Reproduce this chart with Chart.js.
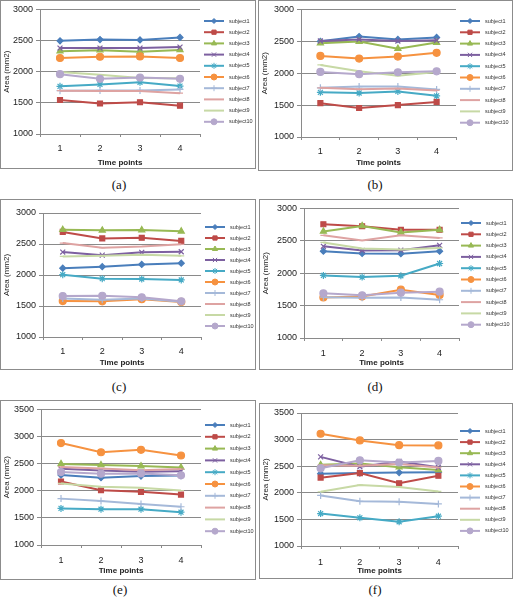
<!DOCTYPE html>
<html>
<head>
<meta charset="utf-8">
<script src="https://cdn.jsdelivr.net/npm/chart.js@4/dist/chart.umd.min.js"></script>
<style>
  body { margin: 0; background: #fff; width: 513px; height: 599px; position: relative; overflow: hidden; }
  .panel { position: absolute; border: 1px solid #8c8c8c; box-sizing: border-box; background: #fff; }
  .panel canvas { display: block; }
  .cap { position: absolute; font-family: "Liberation Serif", serif; font-size: 13px; line-height: 16px; transform: translateX(-50%); color: #111; }
</style>
</head>
<body>
<div class="panel" style="left:0px;top:0px;width:256px;height:169px"><canvas id="chartA" width="254" height="167"></canvas></div>
<div class="panel" style="left:258px;top:0px;width:255px;height:171px"><canvas id="chartB" width="253" height="169"></canvas></div>
<div class="panel" style="left:0px;top:199px;width:256px;height:171px"><canvas id="chartC" width="254" height="169"></canvas></div>
<div class="panel" style="left:259px;top:199px;width:254px;height:171px"><canvas id="chartD" width="252" height="169"></canvas></div>
<div class="panel" style="left:0px;top:400px;width:256px;height:180px"><canvas id="chartE" width="254" height="178"></canvas></div>
<div class="panel" style="left:259px;top:403px;width:254px;height:176px"><canvas id="chartF" width="252" height="174"></canvas></div>
<div class="cap" style="left:119px;top:177px">(a)</div>
<div class="cap" style="left:375px;top:177px">(b)</div>
<div class="cap" style="left:119px;top:379px">(c)</div>
<div class="cap" style="left:375px;top:379px">(d)</div>
<div class="cap" style="left:120px;top:582px">(e)</div>
<div class="cap" style="left:375px;top:582px">(f)</div>
<script>
const timePoints = ['1', '2', '3', '4'];
const subjects = ['subject1', 'subject2', 'subject3', 'subject4', 'subject5',
                  'subject6', 'subject7', 'subject8', 'subject9', 'subject10'];
const ticks3000 = [1000, 1500, 2000, 2500, 3000];
const ticks3500 = [1000, 1500, 2000, 2500, 3000, 3500];

// one row per subject, values at time points 1..4
const areaA = [
  [2495, 2515, 2510, 2550], [1545, 1490, 1510, 1455], [2330, 2345, 2320, 2350],
  [2380, 2380, 2380, 2395], [1765, 1795, 1830, 1770], [2220, 2240, 2245, 2220],
  [1695, 1700, 1700, 1715], [1695, 1690, 1690, 1655], [1995, 1950, 1900, 1895],
  [1960, 1885, 1905, 1885]
];
const areaB = [
  [2500, 2575, 2530, 2560], [1530, 1455, 1500, 1550], [2470, 2495, 2385, 2480],
  [2505, 2530, 2505, 2515], [1700, 1690, 1715, 1645], [2270, 2230, 2260, 2320],
  [1770, 1790, 1790, 1745], [1770, 1750, 1760, 1730], [2130, 2030, 1960, 2020],
  [2020, 1985, 2015, 2030]
];
const areaC = [
  [2110, 2135, 2170, 2190], [2695, 2590, 2600, 2550], [2730, 2720, 2725, 2705],
  [2370, 2320, 2365, 2375], [2005, 1940, 1935, 1920], [1580, 1575, 1610, 1565],
  [1620, 1600, 1620, 1570], [2515, 2440, 2460, 2495], [2300, 2310, 2325, 2310],
  [1660, 1665, 1640, 1575]
];
const areaD = [
  [2340, 2305, 2300, 2340], [2755, 2725, 2670, 2670], [2645, 2730, 2630, 2670],
  [2415, 2350, 2355, 2430], [1965, 1940, 1960, 2150], [1625, 1640, 1745, 1665],
  [1630, 1620, 1625, 1590], [2585, 2505, 2585, 2545], [2475, 2380, 2365, 2390],
  [1690, 1660, 1700, 1715]
];
const areaE = [
  [2290, 2240, 2270, 2280], [2170, 2010, 1980, 1930], [2495, 2475, 2455, 2430],
  [2405, 2375, 2350, 2360], [1675, 1660, 1660, 1605], [2880, 2710, 2755, 2650],
  [1855, 1810, 1755, 1705], [2440, 2410, 2380, 2400], [2135, 2075, 2055, 2005],
  [2345, 2315, 2320, 2285]
];
const areaF = [
  [2360, 2370, 2380, 2385], [2285, 2370, 2180, 2320], [2525, 2550, 2480, 2430],
  [2675, 2490, 2590, 2480], [1610, 1530, 1455, 1560], [3110, 2985, 2895, 2890],
  [1950, 1840, 1830, 1790], [2520, 2510, 2540, 2475], [2020, 2145, 2110, 2025],
  [2460, 2610, 2570, 2600]
];

const colors = ['#4a7ebb', '#be4b48', '#98b954', '#7d60a0', '#46aac5',
                '#f69240', '#a5b9d9', '#dea3a2', '#c7d9a5', '#b5a8cc'];
const markers = ['rectRot', 'rect', 'triangle', 'crossRot', 'star',
                 'circle', 'cross', 'line', 'line', 'circle'];
const markerSize = [3, 3.5, 3.5, 3.5, 3.5, 3.5, 3.5, 3, 3, 3.5];
const gray = '#8a8a8a';
const FONT = '"Liberation Sans", Arial, sans-serif';

const sideLegend = {
  id: 'sideLegend',
  afterDraw(chart, args, opts) {
    const ctx = chart.ctx;
    chart.data.datasets.forEach((ds, i) => {
      const y = opts.y + i * opts.step;
      ctx.save();
      ctx.strokeStyle = ds.borderColor;
      ctx.lineWidth = 2;
      ctx.beginPath();
      ctx.moveTo(opts.x, y);
      ctx.lineTo(opts.x + 20, y);
      ctx.stroke();
      ctx.fillStyle = ds.backgroundColor;
      ctx.lineWidth = 1;
      if (ds.pointStyle !== 'line') {
        Chart.helpers.drawPoint(ctx, {pointStyle: ds.pointStyle, radius: ds.pointRadius - 0.5, rotation: 0, borderWidth: 1}, opts.x + 10, y);
      }
      ctx.fillStyle = '#333';
      ctx.font = '5.5px ' + FONT;
      ctx.textBaseline = 'middle';
      ctx.fillText(ds.label, opts.x + 25, y);
      ctx.restore();
    });
  }
};

function drawPanel(id, values, tickValues, g) {
  const canvas = document.getElementById(id);
  const W = canvas.width, H = canvas.height;
  return new Chart(canvas, {
    type: 'line',
    data: {
      labels: timePoints,
      datasets: subjects.map((name, i) => ({
        label: name,
        data: values[i],
        borderColor: colors[i],
        backgroundColor: colors[i],
        pointStyle: markers[i],
        pointRadius: markerSize[i],
        pointBorderWidth: 1.2,
        borderWidth: 2,
        tension: 0,
        order: 10 - i
      }))
    },
    options: {
      responsive: false,
      animation: false,
      devicePixelRatio: 1,
      layout: {padding: {left: 0, top: g.top, right: W - g.right, bottom: 0}},
      plugins: {
        legend: {display: false},
        tooltip: {enabled: false},
        sideLegend: {x: g.legendX, y: g.legendY, step: g.step}
      },
      scales: {
        x: {
          offset: true,
          grid: {display: true, drawOnChartArea: false, offset: true, color: gray, tickLength: 3},
          border: {color: gray},
          ticks: {color: '#222', font: {family: FONT, size: 9}, padding: g.labelY - g.bottom - 8.4, maxRotation: 0},
          title: {display: true, text: 'Time points', color: '#222', font: {family: FONT, size: 8, weight: 'bold'},
                  padding: {top: 0, bottom: H - g.titleY - 4.8}},
          afterFit: s => { s.height = H - g.bottom; }
        },
        y: {
          min: tickValues[0],
          max: tickValues[tickValues.length - 1],
          afterBuildTicks: s => { s.ticks = tickValues.map(v => ({value: v})); },
          grid: {color: gray, tickLength: 4},
          border: {color: gray},
          ticks: {color: '#222', font: {family: FONT, size: 9}, padding: 3, callback: v => String(v)},
          title: {display: true, text: 'Area (mm2)', color: '#222', font: {family: FONT, size: 8}, padding: {top: 1, bottom: 0}},
          afterFit: s => { s.width = g.left; }
        }
      }
    },
    plugins: [sideLegend]
  });
}

drawPanel('chartA', areaA, ticks3000, {left: 39, right: 199, top: 6, bottom: 133, labelY: 148, titleY: 162, legendX: 203, legendY: 20, step: 11.2});
drawPanel('chartB', areaB, ticks3000, {left: 42, right: 197, top: 6, bottom: 136, labelY: 151, titleY: 162, legendX: 201, legendY: 20, step: 11.3});
drawPanel('chartC', areaC, ticks3000, {left: 42, right: 200, top: 13, bottom: 137, labelY: 152, titleY: 163, legendX: 204, legendY: 27, step: 11});
drawPanel('chartD', areaD, ticks3000, {left: 44, right: 199, top: 7, bottom: 138, labelY: 154, titleY: 163, legendX: 201, legendY: 23, step: 11.3});
drawPanel('chartE', areaE, ticks3500, {left: 40, right: 200, top: 8, bottom: 144, labelY: 160, titleY: 170, legendX: 204, legendY: 24, step: 11.8});
drawPanel('chartF', areaF, ticks3500, {left: 41, right: 198, top: 9, bottom: 142, labelY: 159, titleY: 167, legendX: 200, legendY: 27, step: 11.1});
</script>
</body>
</html>
